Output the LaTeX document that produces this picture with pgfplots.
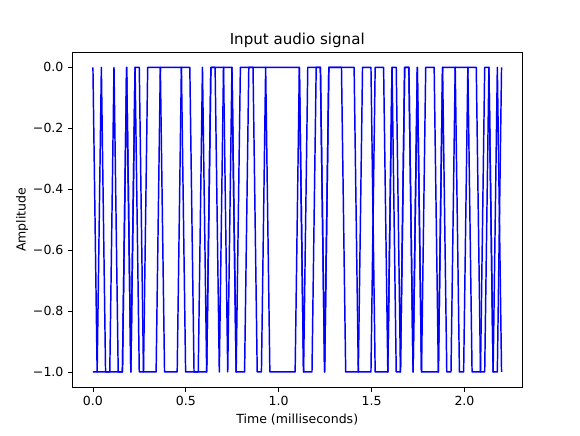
\documentclass[border=0pt]{standalone}
\usepackage{fontspec}
\setmainfont{DejaVu Sans}
\usepackage{pgfplots}
\usepackage{pgfplotstable}
\pgfplotsset{compat=1.18}
\pgfplotstableread{
n a b
0 0 -1
1 -1 -1
2 0 -1
3 -1 -1
4 -1 -1
5 0 -1
6 -1 -1
7 -1 -1
8 0 0
9 -1 -1
10 0 0
11 -1 0
12 -1 -1
13 0 -1
14 0 -1
15 0 -1
16 0 0
17 -1 0
18 -1 0
19 -1 0
20 -1 0
21 0 0
22 0 -1
23 0 -1
24 -1 -1
25 -1 -1
26 0 -1
27 -1 -1
28 0 0
29 0 0
30 -1 0
31 0 0
32 0 -1
33 0 0
34 -1 -1
35 0 -1
36 0 -1
37 0 0
38 0 0
39 0 -1
40 0 -1
41 0 0
42 0 -1
43 0 -1
44 0 -1
45 0 -1
46 0 -1
47 0 -1
48 0 -1
49 0 0
50 -1 -1
51 0 -1
52 0 -1
53 0 0
54 0 0
55 -1 -1
56 0 0
57 0 0
58 0 0
59 0 0
60 0 -1
61 0 -1
62 0 -1
63 -1 -1
64 -1 0
65 -1 0
66 -1 0
67 0 -1
68 0 -1
69 0 -1
70 -1 -1
71 0 0
72 0 -1
73 -1 -1
74 0 0
75 0 0
76 -1 -1
77 0 0
78 -1 -1
79 -1 0
80 -1 0
81 -1 0
82 -1 -1
83 0 0
84 0 -1
85 0 -1
86 0 0
87 -1 0
88 -1 0
89 0 0
90 0 -1
91 0 -1
92 -1 -1
93 -1 0
94 0 0
95 -1 -1
96 0 -1
97 -1 0
}\sig
\begin{document}
\begin{tikzpicture}
\begin{axis}[
  scale only axis, width=337.1pt, height=251.3pt,
  xmin=-0.10998, xmax=2.30948, ymin=-1.05, ymax=0.05,
  xtick={0,0.5,1,1.5,2}, xticklabels={0.0,0.5,1.0,1.5,2.0},
  ytick={-1,-0.8,-0.6,-0.4,-0.2,0},
  yticklabels={−1.0,−0.8,−0.6,−0.4,−0.2,0.0},
  tick align=outside, tick pos=left, major tick length=3.3pt,
  tick style={black, line width=0.6pt},
  axis line style={line width=0.6pt},
  every tick label/.append style={font=\fontsize{9.4}{11}\selectfont},
  xticklabel style={inner sep=0pt, anchor=north, yshift=-3.3pt},
  yticklabel style={inner sep=0pt, anchor=east, xshift=-3.3pt},
  xlabel={Time (milliseconds)}, ylabel={Amplitude},
  label style={font=\fontsize{9.4}{11}\selectfont},
  xlabel style={yshift=-3pt},
  title={Input audio signal},
  title style={font=\fontsize{11.3}{13}\selectfont, at={(0.5,1)}, anchor=base, inner sep=0pt, yshift=-0.3pt},
]
\addplot[blue, line width=1.1pt, line join=round] table[x expr=\thisrow{n}/44.1, y=a] {\sig};
\addplot[blue, line width=1.1pt, line join=round] table[x expr=\thisrow{n}/44.1, y=b] {\sig};
\end{axis}
\pgfresetboundingbox
\path (current axis.south west) ++(-54.375pt,-35.85pt) rectangle ++(435pt,326.25pt);
\end{tikzpicture}
\end{document}
